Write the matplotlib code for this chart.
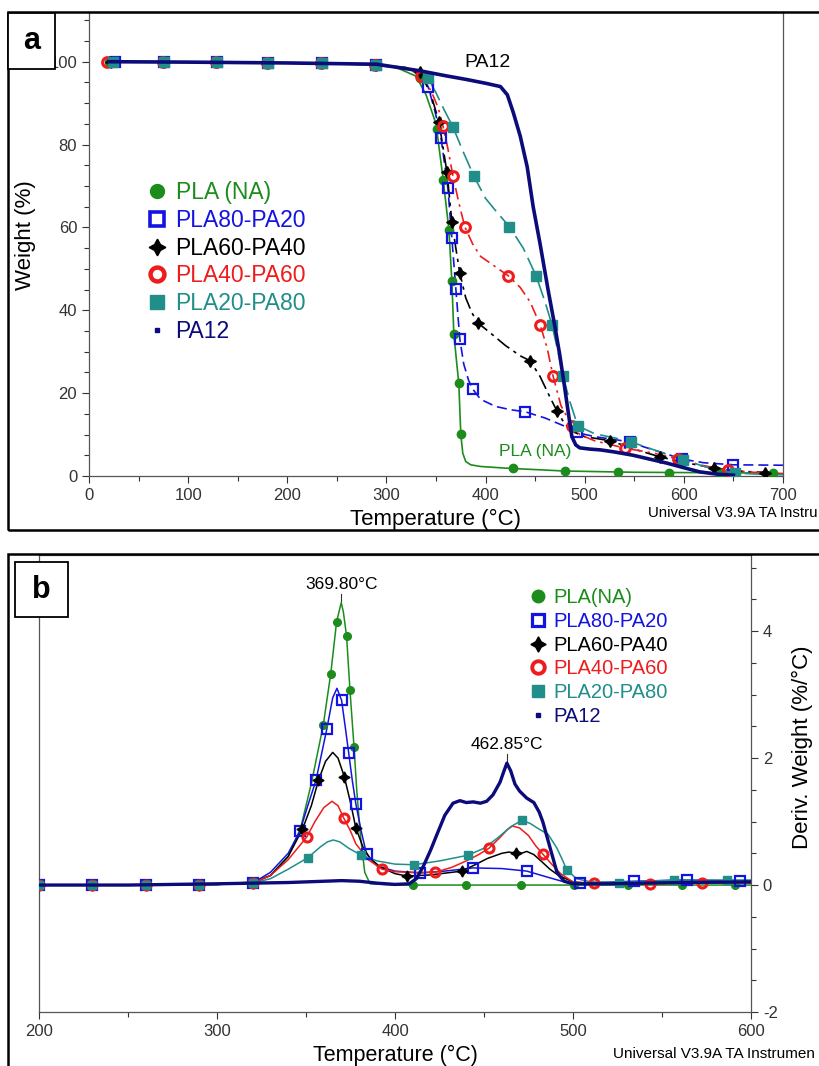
import numpy as np
import matplotlib
matplotlib.use('Agg')
import matplotlib.pyplot as plt
from matplotlib.lines import Line2D
from matplotlib.patches import Rectangle
from matplotlib.ticker import MultipleLocator

plt.rcParams['font.family'] = ['Liberation Sans', 'DejaVu Sans']
plt.rcParams['axes.unicode_minus'] = False

names_a = ["PLA (NA)", "PLA80-PA20", "PLA60-PA40", "PLA40-PA60", "PLA20-PA80", "PA12"]
names_b = ["PLA(NA)", "PLA80-PA20", "PLA60-PA40", "PLA40-PA60", "PLA20-PA80", "PA12"]

# ---- (a) TGA weight curves ----
pla_x = [20, 100, 200, 280, 310, 330, 340, 350, 357, 363, 366, 368, 371, 373, 375, 377, 380, 385, 395, 420, 480, 550, 620, 690]
pla_y = [100, 99.9, 99.7, 99.3, 98.6, 96.5, 92, 85, 72, 59.5, 47, 34.3, 27, 22.4, 10.1, 5.5, 3.5, 2.7, 2.3, 1.9, 1.2, 0.9, 0.8, 0.7]
pla_mx = [20, 76, 129, 181, 235, 289, 334, 351, 357, 363, 366, 368, 373, 375, 428, 480, 534, 585, 637, 690]
pla_my = [100, 100, 99.9, 99.8, 99.6, 99.3, 96, 83.8, 71.5, 59.4, 47.1, 34.3, 22.4, 10.1, 1.9, 1.2, 0.9, 0.8, 0.7, 0.7]

p82_x = [26, 100, 200, 290, 320, 335, 342, 349, 355, 362, 366, 370, 374, 378, 383, 387, 395, 410, 425, 440, 460, 480, 492, 510, 530, 546, 560, 580, 598, 620, 650, 700]
p82_y = [100, 99.9, 99.7, 99.3, 98.5, 97, 94, 88, 81.7, 69.5, 57.4, 45.2, 33.1, 27, 23, 21, 18.5, 16.8, 16, 15.5, 14, 12, 10.5, 9.5, 8.8, 8.2, 7, 5.5, 4.1, 3.2, 2.7, 2.6]
p82_mx = [26, 76, 129, 181, 235, 289, 342, 355, 362, 366, 370, 374, 387, 440, 492, 546, 598, 650]
p82_my = [100, 100, 99.9, 99.7, 99.6, 99.3, 94, 81.7, 69.5, 57.4, 45.2, 33.1, 21.0, 15.5, 10.5, 8.2, 4.1, 2.7]

p64_x = [22, 100, 200, 290, 320, 334, 345, 353, 361, 366, 370, 374, 380, 386, 392, 405, 420, 435, 445, 455, 465, 472, 480, 490, 500, 526, 550, 576, 600, 630, 660, 690]
p64_y = [100, 99.9, 99.7, 99.3, 98.5, 97.5, 92, 85.5, 73.4, 61.4, 55, 49, 43, 39.5, 37, 34.5, 31.5, 29, 27.8, 24, 19, 15.7, 12.5, 10.5, 9.5, 8.5, 6.5, 4.6, 3.3, 1.9, 1.1, 0.8]
p64_mx = [22, 76, 129, 181, 235, 289, 334, 353, 361, 366, 374, 392, 445, 472, 526, 576, 630, 682]
p64_my = [100, 100, 99.9, 99.7, 99.6, 99.3, 97.5, 85.5, 73.4, 61.4, 49.0, 37.0, 27.8, 15.7, 8.5, 4.6, 1.9, 0.8]

p46_x = [18, 100, 200, 290, 320, 335, 345, 352, 357, 362, 367, 373, 379, 387, 395, 410, 423, 435, 445, 455, 462, 468, 476, 487, 495, 510, 541, 570, 594, 620, 645, 670, 700]
p46_y = [100, 99.9, 99.7, 99.3, 98.6, 96.5, 93, 89, 84.5, 79, 72.5, 66, 60.2, 56, 53, 50.5, 48.3, 45.5, 42, 36.5, 31, 24.2, 17, 12.1, 10, 8.5, 6.7, 5.5, 4.1, 2.5, 1.4, 0.9, 0.6]
p46_mx = [18, 75, 128, 180, 234, 288, 335, 357, 367, 379, 423, 455, 468, 487, 541, 594, 645]
p46_my = [100, 100, 99.9, 99.7, 99.6, 99.3, 96.5, 84.5, 72.5, 60.2, 48.3, 36.5, 24.2, 12.1, 6.7, 4.1, 1.4]

p28_x = [24, 100, 200, 290, 320, 335, 342, 350, 358, 367, 377, 388, 400, 412, 424, 438, 451, 460, 467, 473, 478, 485, 493, 510, 530, 547, 570, 599, 625, 652, 680, 700]
p28_y = [100, 99.9, 99.7, 99.3, 98.6, 97.5, 96, 92.5, 88.5, 84.3, 78.5, 72.5, 67, 63.5, 60.2, 55, 48.3, 42, 36.5, 30, 24.2, 18, 12.1, 10.2, 9.2, 8.2, 6.3, 3.9, 2.0, 0.7, 0.4, 0.3]
p28_mx = [24, 76, 129, 181, 235, 289, 342, 367, 388, 424, 451, 467, 478, 493, 547, 599, 652]
p28_my = [100, 100, 99.9, 99.7, 99.6, 99.3, 96, 84.3, 72.5, 60.2, 48.3, 36.5, 24.2, 12.1, 8.2, 3.9, 0.7]

pa_x = [20, 100, 200, 290, 334, 360, 381, 400, 415, 422, 428, 435, 442, 448, 455, 463, 470, 475, 480, 483, 487, 491, 495, 505, 516, 530, 549, 565, 583, 600, 616, 635, 650]
pa_y = [100, 99.9, 99.7, 99.4, 97.8, 96.6, 95.7, 94.8, 94, 92, 87.7, 82, 74.6, 65, 56, 45, 36, 29, 21, 16, 9.5, 7.5, 6.8, 6.5, 6.3, 5.8, 5.0, 4.1, 3.1, 2.0, 1.0, 0.4, 0.2]

# ---- (b) DTG curves ----
d_pla_x = [200, 250, 300, 320, 330, 340, 347, 353, 359.7, 363.9, 367.2, 369.8, 371, 372.8, 374.7, 377, 378.5, 380.5, 383, 386, 400, 450, 500, 550, 600]
d_pla_y = [0, 0, 0.01, 0.05, 0.15, 0.45, 0.9, 1.6, 2.52, 3.33, 4.15, 4.45, 4.3, 3.92, 3.07, 2.17, 1.5, 0.8, 0.2, 0.02, 0, 0, 0, 0, 0]
d_pla_mx = [200, 230, 260, 290, 320, 359.7, 363.9, 367.2, 372.8, 374.7, 377, 410, 440, 470.6, 500.7, 531, 561, 591]
d_pla_my = [0, 0, 0, 0, 0.02, 2.52, 3.33, 4.15, 3.92, 3.07, 2.17, 0, 0, 0, 0, 0, 0, 0]

d_82_x = [200, 250, 300, 320, 330, 340, 346.6, 351, 355.6, 359, 361.7, 365, 367.4, 370, 372, 374, 376, 378, 381, 384, 390, 400, 414, 428, 443.8, 460, 474, 485, 495, 504, 534, 564, 594, 600]
d_82_y = [0, 0, 0.01, 0.03, 0.2, 0.5, 0.85, 1.25, 1.65, 2.1, 2.46, 2.95, 3.1, 2.91, 2.5, 2.08, 1.65, 1.28, 0.85, 0.49, 0.3, 0.22, 0.19, 0.22, 0.27, 0.26, 0.22, 0.13, 0.05, 0.03, 0.06, 0.08, 0.06, 0.06]
d_82_mx = [200, 230, 260, 290, 320, 346.6, 355.6, 361.7, 370, 374, 378, 384, 414, 443.8, 474, 504, 534, 564, 594]
d_82_my = [0, 0, 0, 0, 0.03, 0.85, 1.65, 2.46, 2.91, 2.08, 1.28, 0.49, 0.19, 0.27, 0.22, 0.03, 0.06, 0.08, 0.06]

d_64_x = [200, 250, 300, 320, 330, 340, 348, 353, 357, 361, 365, 368, 371.5, 375, 378, 382, 386, 392, 400, 407, 420, 437.6, 445, 452, 460, 464, 468, 471, 474, 478, 482, 487, 492, 500, 510, 550, 600]
d_64_y = [0, 0, 0.01, 0.03, 0.15, 0.45, 0.88, 1.25, 1.65, 1.95, 2.09, 2.0, 1.71, 1.3, 0.9, 0.6, 0.42, 0.28, 0.18, 0.14, 0.16, 0.22, 0.32, 0.42, 0.5, 0.52, 0.5, 0.5, 0.53, 0.48, 0.38, 0.25, 0.15, 0.05, 0.02, 0.04, 0.05]
d_64_mx = [200, 230, 260, 290, 320, 348, 357, 371.5, 378, 407, 437.6, 468]
d_64_my = [0, 0, 0, 0, 0.03, 0.88, 1.65, 1.71, 0.9, 0.14, 0.22, 0.5]

d_46_x = [200, 250, 300, 320, 330, 340, 350.5, 355, 360, 364.6, 368, 371.3, 375, 378, 385, 392.7, 400, 410, 422.5, 432, 440, 447, 452.8, 459, 463, 466, 470, 475, 479, 483, 488, 493, 500, 512, 543, 572.5, 600]
d_46_y = [0, 0, 0.01, 0.03, 0.15, 0.4, 0.76, 1.0, 1.22, 1.32, 1.25, 1.05, 0.85, 0.65, 0.4, 0.25, 0.21, 0.2, 0.2, 0.28, 0.38, 0.48, 0.58, 0.75, 0.87, 0.93, 0.9, 0.78, 0.62, 0.49, 0.33, 0.18, 0.05, 0.03, 0.02, 0.03, 0.03]
d_46_mx = [200, 230, 260, 290, 320, 350.5, 371.3, 392.7, 422.5, 452.8, 483, 512, 543, 572.5]
d_46_my = [0, 0, 0, 0, 0.03, 0.76, 1.05, 0.25, 0.2, 0.58, 0.49, 0.03, 0.02, 0.03]

d_28_x = [200, 250, 300, 320, 330, 340, 351, 358, 362, 365.3, 369, 374, 381, 390, 400, 410.7, 425, 441, 450, 458, 465, 471.3, 476, 481, 486, 491, 494, 496.5, 502, 510, 526, 556.7, 586.6, 600]
d_28_y = [0, 0, 0.01, 0.03, 0.1, 0.25, 0.43, 0.6, 0.68, 0.71, 0.68, 0.58, 0.47, 0.38, 0.33, 0.32, 0.38, 0.47, 0.58, 0.75, 0.92, 1.02, 0.97, 0.88, 0.8, 0.58, 0.4, 0.24, 0.1, 0.05, 0.04, 0.08, 0.08, 0.08]
d_28_mx = [200, 230, 260, 290, 320, 351, 381, 410.7, 441, 471.3, 496.5, 526, 556.7, 586.6]
d_28_my = [0, 0, 0, 0, 0.03, 0.43, 0.47, 0.32, 0.47, 1.02, 0.24, 0.04, 0.08, 0.08]

d_pa_x = [200, 250, 300, 340, 360, 370, 380, 390, 400, 408, 412, 416, 420, 423.6, 428, 432.6, 436.5, 440, 444, 448, 451.5, 455, 459, 461, 462.85, 465, 467.4, 470, 474, 478, 481, 483, 485, 488, 491, 495, 500, 520, 560, 600]
d_pa_y = [0, 0, 0.02, 0.04, 0.06, 0.07, 0.06, 0.03, 0.01, 0.02, 0.1, 0.3, 0.55, 0.8, 1.1, 1.29, 1.33, 1.3, 1.31, 1.29, 1.32, 1.42, 1.62, 1.78, 1.92, 1.8, 1.59, 1.48, 1.37, 1.3, 1.15, 1.0, 0.8, 0.5, 0.2, 0.06, 0.02, 0.02, 0.04, 0.05]

peak_t = [369.80, 462.85]

colors = ['#1c8c1c', '#1414e0', '#000000', '#ee1c1c', '#218e8a', '#0b0b7a']
markers = ['o', 's', (4, 1, 0), 'o', 's', 's']
filled = [True, False, True, False, True, True]
mews = [1, 1.6, 1, 2.2, 1, 1]
ls_a = ['-', (0, (6, 3)), (0, (9, 3, 2, 3)), (0, (7, 3, 1.5, 3)), (0, (11, 4)), '-']

W, H = 819, 1066
def fbox(l, t, r, b):
    return [l / W, 1 - b / H, (r - l) / W, (b - t) / H]

fig = plt.figure(figsize=(8.19, 10.66), dpi=100)

# outer frames
fig.add_artist(Rectangle((8 / W, 1 - 530 / H), 1.1, 518 / H, transform=fig.transFigure,
                         fill=False, lw=1.8, ec='black'))
fig.add_artist(Rectangle((8 / W, -0.05), 1.1, 0.05 + 1 - 554 / H, transform=fig.transFigure,
                         fill=False, lw=1.8, ec='black'))

spine_c = '#555555'

# ---------------- panel a ----------------
ax1 = fig.add_axes(fbox(89, 12, 783, 476))
curves_a = [(pla_x, pla_y, pla_mx, pla_my), (p82_x, p82_y, p82_mx, p82_my),
            (p64_x, p64_y, p64_mx, p64_my), (p46_x, p46_y, p46_mx, p46_my),
            (p28_x, p28_y, p28_mx, p28_my)]
ms_a = [6, 7, 8.5, 7, 6.5]
for i, (cx, cy, mx, my) in enumerate(curves_a):
    ax1.plot(cx, cy, color=colors[i], lw=1.2, ls=ls_a[i], zorder=2)
    ax1.plot(mx, my, ls='none', marker=markers[i], ms=ms_a[i], color=colors[i],
             mfc=colors[i] if filled[i] else 'none', mew=mews[i], zorder=3)
ax1.plot(pa_x, pa_y, color=colors[5], lw=2.6, zorder=4)

ax1.set_xlim(0, 700)
ax1.set_ylim(0, 112)
ax1.xaxis.set_major_locator(MultipleLocator(100))
ax1.xaxis.set_minor_locator(MultipleLocator(50))
ax1.yaxis.set_minor_locator(MultipleLocator(5))
ax1.set_yticks([0, 20, 40, 60, 80, 100])
ax1.tick_params(which='both', direction='out', colors='#333333', labelsize=12, width=0.8)
ax1.tick_params(which='major', length=5)
ax1.tick_params(which='minor', length=3.5)
for s in ax1.spines.values():
    s.set_color(spine_c)
    s.set_linewidth(0.9)
ax1.set_xlabel("Temperature (°C)", fontsize=16)
ax1.xaxis.set_label_coords(0.5, -0.071)
ax1.set_ylabel("Weight (%)", fontsize=16)
ax1.yaxis.set_label_coords(-0.077, 0.52)

ax1.text(402, 99.8, "PA12", fontsize=14, ha='center', va='center')
ax1.text(450, 5.8, "PLA (NA)", fontsize=12.5, color=colors[0], ha='center', va='center')

handles = []
lg_ms = [10, 9.5, 12, 10, 9.5, 3]
lg_mew = [1, 2.6, 1, 3.2, 1, 1]
for i in range(6):
    handles.append(Line2D([], [], ls='none', marker=markers[i], ms=lg_ms[i], color=colors[i],
                          mfc=colors[i] if filled[i] else 'none', mew=lg_mew[i]))
ax1.legend(handles, names_a, loc='upper left', bbox_to_anchor=(148 / W, 1 - 181 / H),
           bbox_transform=fig.transFigure, frameon=False, fontsize=16.5,
           handlelength=0.8, handletextpad=0.4, labelspacing=0.21, borderpad=0,
           borderaxespad=0, labelcolor=colors)

# ---------------- panel b ----------------
ax2 = fig.add_axes(fbox(39, 555, 751, 1012))
curves_b = [(d_pla_x, d_pla_y, d_pla_mx, d_pla_my), (d_82_x, d_82_y, d_82_mx, d_82_my),
            (d_64_x, d_64_y, d_64_mx, d_64_my), (d_46_x, d_46_y, d_46_mx, d_46_my),
            (d_28_x, d_28_y, d_28_mx, d_28_my)]
ms_b = [5.5, 6.5, 8, 6.5, 6]
for i, (cx, cy, mx, my) in enumerate(curves_b):
    ax2.plot(cx, cy, color=colors[i], lw=1.1, zorder=2)
    ax2.plot(mx, my, ls='none', marker=markers[i], ms=ms_b[i], color=colors[i],
             mfc=colors[i] if filled[i] else 'none', mew=mews[i], zorder=3)
ax2.plot(d_pa_x, d_pa_y, color=colors[5], lw=2.4, zorder=4)

# peak labels
peak_h = [max(d_pla_y), max(d_pa_y)]
for t, h in zip(peak_t, peak_h):
    ax2.plot([t, t], [h + 0.02, h + 0.14], color='#333333', lw=0.8)
    ax2.text(t, h + 0.17, "%.2f°C" % t, fontsize=12.5, ha='center', va='bottom')

ax2.set_xlim(200, 600)
ax2.set_ylim(-2, 5.2)
ax2.xaxis.set_major_locator(MultipleLocator(100))
ax2.xaxis.set_minor_locator(MultipleLocator(50))
ax2.set_yticks([-2, 0, 2, 4])
ax2.yaxis.set_minor_locator(MultipleLocator(0.5))
ax2.yaxis.tick_right()
ax2.yaxis.set_label_position('right')
ax2.tick_params(which='both', direction='out', colors='#333333', labelsize=12, width=0.8)
ax2.tick_params(which='major', length=5)
ax2.tick_params(which='minor', length=3.5)
for s in ax2.spines.values():
    s.set_color(spine_c)
    s.set_linewidth(0.9)
ax2.set_xlabel("Temperature (°C)", fontsize=15.5)
ax2.xaxis.set_label_coords(0.5, -0.071)
ax2.set_ylabel("Deriv. Weight (%/°C)", fontsize=16)
ax2.yaxis.set_label_coords(1.058, 0.58)

handles_b = []
lg_ms_b = [9, 8.5, 11, 9, 8.5, 3]
lg_mew_b = [1, 2.3, 1, 2.8, 1, 1]
for i in range(6):
    handles_b.append(Line2D([], [], ls='none', marker=markers[i], ms=lg_ms_b[i], color=colors[i],
                            mfc=colors[i] if filled[i] else 'none', mew=lg_mew_b[i]))
ax2.legend(handles_b, names_b, loc='upper left', bbox_to_anchor=(530 / W, 1 - 588 / H),
           bbox_transform=fig.transFigure, frameon=False, fontsize=14.5,
           handlelength=0.8, handletextpad=0.35, labelspacing=0.24, borderpad=0,
           borderaxespad=0, labelcolor=colors)

# panel letters
for (l, t, r, b), letter in [((8, 13, 55, 69), 'a'), ((15, 562, 68, 617), 'b')]:
    fig.add_artist(Rectangle((l / W, 1 - b / H), (r - l) / W, (b - t) / H, transform=fig.transFigure,
                             fc='white', ec='black', lw=1.3, zorder=10))
    fig.text((l + r) / 2 / W, 1 - (t + b) / 2 / H, letter, fontsize=22, fontweight='bold',
             ha='center', va='center', zorder=11)

# instrument stamp, cut by the page edge as in the source
fig.text(648 / W, 1 - 513 / H, "Universal V3.9A TA Instru", fontsize=10.8, va='center')
fig.text(613 / W, 1 - 1054 / H, "Universal V3.9A TA Instrumen", fontsize=11, va='center')

fig.savefig('out.png', dpi=100)
